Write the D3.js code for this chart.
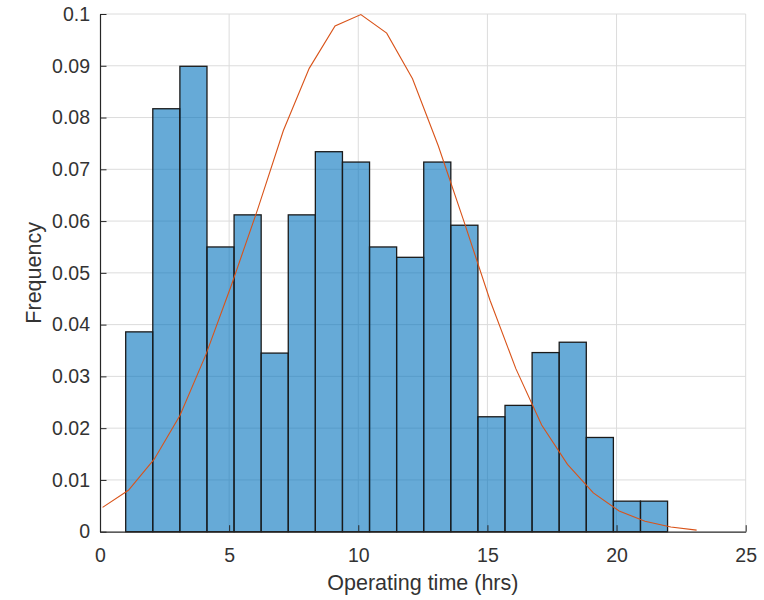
<!DOCTYPE html>
<html>
<head>
<meta charset="utf-8">
<script src="https://cdn.jsdelivr.net/npm/d3@7"></script>
<style>
  html, body { margin: 0; padding: 0; background: #fff; }
  svg { display: block; }
  text { font-family: "Liberation Sans", Arial, Helvetica, sans-serif; }
</style>
</head>
<body>
<svg id="chart" width="764" height="600"></svg>
<script>
// ---- data ----
const binEdges = [0.995, 2.044, 3.093, 4.142, 5.191, 6.240, 7.289, 8.338, 9.387, 10.436,
                  11.485, 12.534, 13.583, 14.632, 15.681, 16.730, 17.779, 18.828, 19.877, 20.926, 21.975];
const binFreq = [0.0386, 0.0817, 0.0899, 0.0550, 0.0612, 0.0345, 0.0612, 0.0734, 0.0714, 0.0550,
                 0.0530, 0.0714, 0.0592, 0.0222, 0.0244, 0.0346, 0.0366, 0.0182, 0.0059, 0.0059];
const fitX = [0.1, 1.1, 2.1, 3.1, 4.1, 5.1, 6.1, 7.1, 8.1, 9.1, 10.1, 11.1,
              12.1, 13.1, 14.1, 15.1, 16.1, 17.1, 18.1, 19.1, 20.1, 21.1, 22.1, 23.1];
const fitY = [0.0047, 0.0080, 0.0140, 0.0225, 0.0342, 0.0478, 0.0622, 0.0775, 0.0895, 0.0977, 0.0999, 0.0963,
              0.0875, 0.0745, 0.0598, 0.0447, 0.0315, 0.0206, 0.0130, 0.0075, 0.0040, 0.0020, 0.0009, 0.0003];
const xTicks = [0, 5, 10, 15, 20, 25];
const yTicks = [0, 0.01, 0.02, 0.03, 0.04, 0.05, 0.06, 0.07, 0.08, 0.09, 0.1];
const xLabel = "Operating time (hrs)";
const yLabel = "Frequency";

(function () {
// ---- layout ----
const pL = 100, pR = 745.7, pT = 14, pB = 531.7;
const svg = d3.select("#chart");
const x = d3.scaleLinear().domain([0, 25]).range([pL, pR]);
const y = d3.scaleLinear().domain([0, 0.1]).range([pB, pT]);
const axisColor = "#262626";
const tickFont = 19.5, labelFont = 21.5;

// grid
const grid = svg.append("g");
grid.selectAll("line.gx").data(xTicks.filter(d => d > 0)).join("line")
  .attr("x1", d => x(d)).attr("x2", d => x(d)).attr("y1", pT).attr("y2", pB)
  .attr("stroke", "#dcdcdc").attr("stroke-width", 1);
grid.selectAll("line.gy").data(yTicks.filter(d => d > 0)).join("line")
  .attr("x1", pL).attr("x2", pR).attr("y1", d => y(d)).attr("y2", d => y(d))
  .attr("stroke", "#dcdcdc").attr("stroke-width", 1);

// bars
const bins = binFreq.map((v, i) => ({x0: binEdges[i], x1: binEdges[i + 1], v}));
svg.append("g").selectAll("rect").data(bins).join("rect")
  .attr("x", d => x(d.x0)).attr("width", d => x(d.x1) - x(d.x0))
  .attr("y", d => y(d.v)).attr("height", d => y(0) - y(d.v))
  .attr("fill", "rgb(0,114,189)").attr("fill-opacity", 0.6)
  .attr("stroke", "#1a1a1a").attr("stroke-width", 1.3);

// fit curve
const line = d3.line().x(d => x(d[0])).y(d => y(d[1]));
svg.append("path").datum(fitX.map((v, i) => [v, fitY[i]]))
  .attr("d", line).attr("fill", "none")
  .attr("stroke", "#D95319").attr("stroke-width", 1.1);

// axes
const xAxis = d3.axisBottom(x).tickValues(xTicks).tickSizeInner(-6.5).tickSizeOuter(0).tickPadding(16)
  .tickFormat(d3.format("d"));
const gx = svg.append("g").attr("transform", `translate(0,${pB})`).call(xAxis);
const yAxis = d3.axisLeft(y).tickValues(yTicks).tickSizeInner(-6.5).tickSizeOuter(0).tickPadding(16)
  .tickFormat(d => d === 0 ? "0" : String(+d.toFixed(2)));
const gy = svg.append("g").attr("transform", `translate(${pL},0)`).call(yAxis);
[gx, gy].forEach(g => {
  g.select(".domain").attr("stroke", axisColor).attr("stroke-width", 1.2);
  g.selectAll(".tick line").attr("stroke", axisColor).attr("stroke-width", 1);
  g.selectAll(".tick text").attr("fill", "#333").style("font-size", tickFont + "px")
    .style("font-family", '"Liberation Sans", Arial, sans-serif');
});
gx.selectAll(".tick text").attr("dy", "0.71em").attr("y", 16.5);
gy.selectAll(".tick text").attr("x", -10);

// labels
svg.append("text").attr("x", (pL + pR) / 2).attr("y", 590)
  .attr("text-anchor", "middle").attr("fill", "#333").style("font-size", labelFont + "px")
  .text(xLabel);
svg.append("text").attr("transform", `translate(41,${(pT + pB) / 2}) rotate(-90)`)
  .attr("text-anchor", "middle").attr("fill", "#333").style("font-size", labelFont + "px")
  .text(yLabel);
})();
</script>
</body>
</html>
